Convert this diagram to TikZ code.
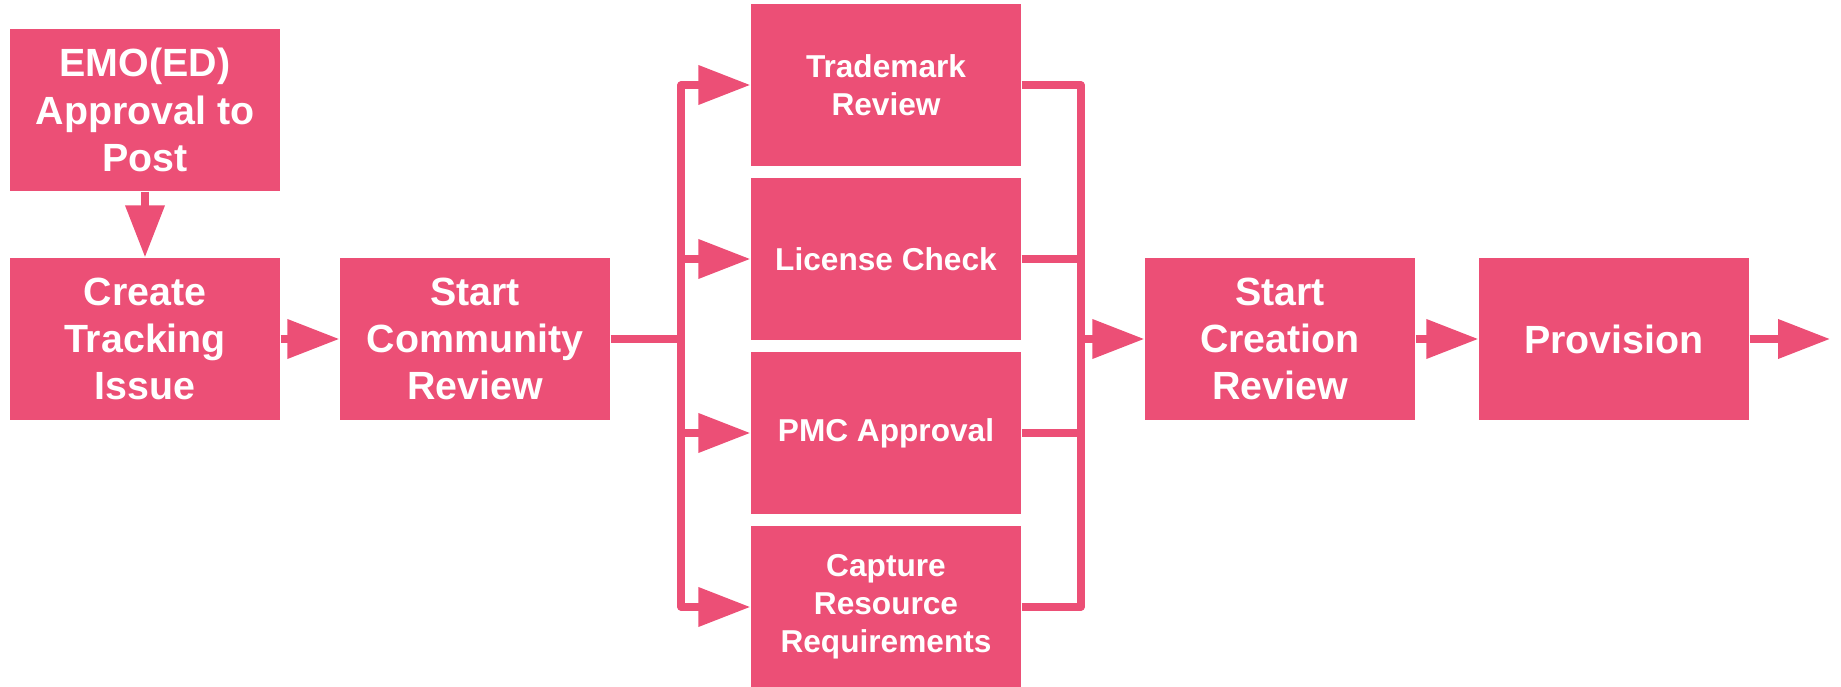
\documentclass[tikz,border=0pt]{standalone}
\usepackage{fontspec}
\setmainfont{Liberation Sans}
\usepackage{xcolor}
\usepackage{tikz}
\tikzset{>=latex}
\usetikzlibrary{arrows.meta}

\definecolor{rosepink}{RGB}{236,79,118}
\tikzset{
    stage/.style={fill=rosepink, text=white, align=center, inner sep=0pt,
        minimum width=2.7cm, minimum height=1.62cm,
        font=\bfseries\fontsize{11.2}{13.5}\selectfont},
    check/.style={stage, font=\bfseries\fontsize{9}{10.8}\selectfont},
    flow/.style={draw=rosepink, line width=0.72mm, line join=round,
        -{Triangle[length=5.2mm, width=3.8mm]}},
    link/.style={draw=rosepink, line width=0.72mm, line join=round},
}

\begin{document}
\begin{tikzpicture}[]
   \useasboundingbox (0, 0) rectangle (18.41, 6.87);

   \node[stage] (emo) at (1.45, 5.77) {EMO(ED)\\Approval to\\Post};
   \node[stage] (create) at (1.45, 3.48) {Create\\Tracking\\Issue};
   \node[stage] (community) at (4.75, 3.48) {Start\\Community\\Review};
   \node[stage] (creation) at (12.80, 3.48) {Start\\Creation\\Review};
   \node[stage] (provision) at (16.14, 3.48) {Provision};

   % Checks in parallel
   \foreach \name/\txt/\y in {trademark/{Trademark\\Review}/6.02,
        license/{License Check}/4.28, pmc/{PMC Approval}/2.54,
        capture/{Capture\\Resource\\Requirements}/0.80}{
        \node[check] (\name) at (8.86, \y) {\txt};
   }

   \coordinate (split) at (6.81, 3.48);
   \coordinate (join) at (10.81, 3.48);
   \coordinate (out) at (18.30, 3.48);

   \draw[flow] (emo) -- (create);
   \draw[flow] (create) -- (community);
   \draw[link] (community) -- (split);

   % Fan out and back in
   \foreach \name in {trademark, license, pmc, capture}{
        \draw[flow] (split) |- (\name);
        \draw[link] (\name) -| (join);
   }

   \draw[flow] (join) -- (creation);
   \draw[flow] (creation) -- (provision);
   \draw[flow] (provision) -- (out);
\end{tikzpicture}
\end{document}
